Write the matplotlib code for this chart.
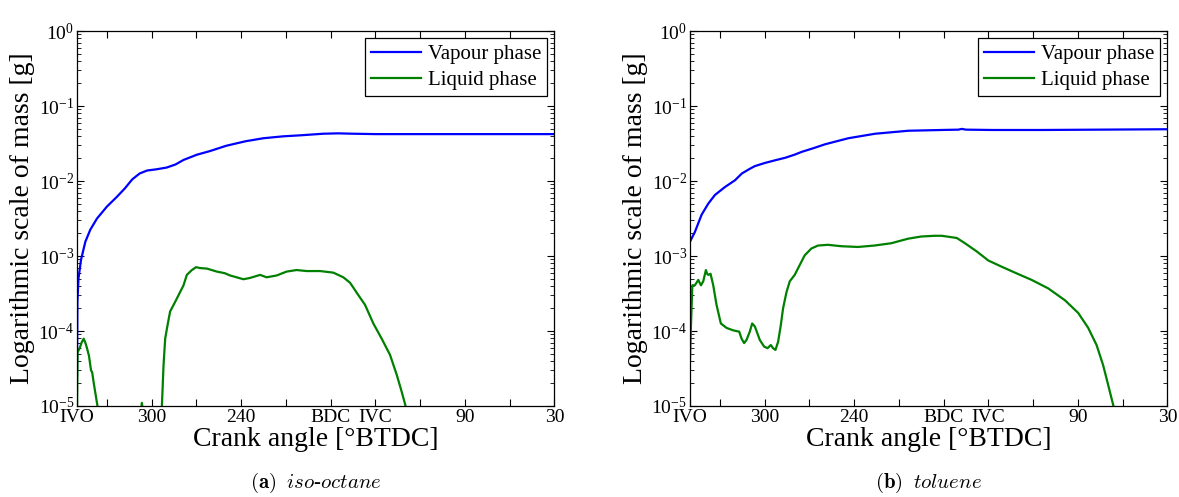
import numpy as np
import matplotlib
matplotlib.use("Agg")
import matplotlib.pyplot as plt
from matplotlib.ticker import LogLocator, NullFormatter

plt.rcParams['font.family'] = ['Liberation Serif', 'DejaVu Serif']
plt.rcParams['mathtext.fontset'] = 'custom'
plt.rcParams['mathtext.rm'] = 'Liberation Serif'
plt.rcParams['mathtext.it'] = 'Liberation Serif:italic'
plt.rcParams['mathtext.bf'] = 'Liberation Serif:bold'

# crank angle ticks [deg BTDC], axis runs from IVO (350) down to 30
tick_pos = [350, 330, 300, 270, 240, 210, 180, 150, 120, 90, 60, 30]
tick_lab = ['IVO', '', '300', '', '240', '', 'BDC', 'IVC', '', '90', '', '30']

# iso-octane
iso_vap_ca = [350, 349.7, 349.0, 347.3, 344.4, 341.1, 336.6, 329.9, 323.2, 318.0, 313, 308,
              303, 297, 290, 284, 278.6, 269.7, 260.8, 250, 237, 225, 212, 200, 185, 175,
              165, 150, 120, 90, 60, 30]
iso_vap = [2.5e-5, 2.5e-4, 5.0e-4, 8.9e-4, 1.55e-3, 2.24e-3, 3.16e-3, 4.57e-3, 6.17e-3, 7.94e-3,
           1.05e-2, 1.26e-2, 1.38e-2, 1.43e-2, 1.51e-2, 1.66e-2, 1.91e-2, 2.24e-2, 2.51e-2,
           2.95e-2, 3.39e-2, 3.72e-2, 3.94e-2, 4.07e-2, 4.27e-2, 4.32e-2, 4.27e-2, 4.22e-2,
           4.22e-2, 4.22e-2, 4.22e-2, 4.22e-2]

iso_liq_ca = [350, 349.6, 348.2, 346.8, 345.5, 344.3, 343.3, 342, 340.6, 339.8, 338.9, 337.1,
              336, 335, 308, 307, 306.5, 306, 305, 293.5, 293.1, 292, 290.9, 289.3, 287.6,
              284.2, 280.9, 278.6, 276.4, 273.0, 270.2, 267.5, 263.0, 256.3, 251, 247.4, 243,
              238.5, 234, 227.3, 222.9, 216.2, 209.5, 202.8, 196.1, 187.1, 178.2, 171.5, 167,
              161.4, 157, 151.4, 145.8, 140.2, 135.7, 132.4, 129.5, 128]
iso_liq = [8e-6, 5.2e-5, 5.9e-5, 7.1e-5, 7.9e-5, 6.9e-5, 5.9e-5, 4.7e-5, 3.0e-5, 2.8e-5, 2.1e-5,
           1.26e-5, 9.3e-6, 5e-6, 5e-6, 9e-6, 1.1e-5, 9e-6, 5e-6, 5e-6, 1e-5, 3.5e-5, 7.9e-5,
           1.2e-4, 1.82e-4, 2.45e-4, 3.3e-4, 4.07e-4, 5.6e-4, 6.5e-4, 7.1e-4, 6.9e-4, 6.8e-4,
           6.2e-4, 5.9e-4, 5.5e-4, 5.2e-4, 4.9e-4, 5.1e-4, 5.6e-4, 5.2e-4, 5.5e-4, 6.2e-4,
           6.5e-4, 6.3e-4, 6.3e-4, 6.0e-4, 5.2e-4, 4.4e-4, 3.0e-4, 2.24e-4, 1.26e-4, 7.9e-5,
           4.8e-5, 2.6e-5, 1.55e-5, 9.5e-6, 5e-6]

# toluene
tol_vap_ca = [350, 346.7, 342.2, 337.7, 333.3, 326.6, 319.9, 315.2, 310, 306.5, 299.8, 292,
              286.2, 280, 275, 267, 259.4, 243.8, 225.9, 203.6, 181.3, 170, 167.9, 165, 147.8,
              114.3, 30]
tol_vap = [1.55e-3, 2.09e-3, 3.55e-3, 5.0e-3, 6.5e-3, 8.3e-3, 1.02e-2, 1.26e-2, 1.45e-2, 1.58e-2,
           1.74e-2, 1.91e-2, 2.04e-2, 2.24e-2, 2.45e-2, 2.75e-2, 3.09e-2, 3.72e-2, 4.27e-2,
           4.68e-2, 4.79e-2, 4.84e-2, 4.95e-2, 4.84e-2, 4.79e-2, 4.79e-2, 4.9e-2]

tol_liq_ca = [350, 349.3, 348.4, 346.7, 344.4, 343.5, 342.6, 341.1, 339.3, 338.5, 337.7, 336.2,
              334.4, 332.2, 329.3, 325.5, 321, 317, 315.4, 313.7, 312.1, 309.9, 308.3, 306.5,
              303.2, 300.3, 298, 295.8, 294.3, 292.7, 290.9, 289.1, 287.6, 285.3, 283.1, 279.8,
              276.4, 273.1, 268.6, 264.1, 257.5, 248.5, 237.4, 226.2, 215.1, 203.9, 195, 186.1,
              181.3, 171.2, 165.7, 157.8, 150, 141.1, 132.2, 121, 109.9, 98.7, 89.8, 83.1, 77.5,
              73.1, 69.7, 65.9, 64]
tol_liq = [4.0e-5, 1.2e-4, 4.07e-4, 4.07e-4, 4.8e-4, 4.4e-4, 4.07e-4, 4.6e-4, 6.5e-4, 5.8e-4,
           5.6e-4, 5.8e-4, 4.07e-4, 2.24e-4, 1.26e-4, 1.1e-4, 1.02e-4, 9.8e-5, 7.9e-5, 6.9e-5,
           7.6e-5, 9.8e-5, 1.26e-4, 1.15e-4, 7.6e-5, 6.2e-5, 5.9e-5, 6.5e-5, 5.9e-5, 5.6e-5,
           7.2e-5, 1.2e-4, 2.0e-4, 3.3e-4, 4.6e-4, 5.6e-4, 7.6e-4, 1.02e-3, 1.26e-3, 1.38e-3,
           1.41e-3, 1.35e-3, 1.32e-3, 1.38e-3, 1.48e-3, 1.70e-3, 1.82e-3, 1.86e-3, 1.86e-3,
           1.74e-3, 1.48e-3, 1.15e-3, 8.7e-4, 7.2e-4, 6.0e-4, 4.8e-4, 3.7e-4, 2.57e-4, 1.74e-4,
           1.1e-4, 6.5e-5, 3.5e-5, 1.9e-5, 9.5e-6, 5e-6]

panels = [
    (iso_vap_ca, iso_vap, iso_liq_ca, iso_liq, r"$\mathbf{(a)}$  $\mathit{iso}$-$\mathit{octane}$"),
    (tol_vap_ca, tol_vap, tol_liq_ca, tol_liq, r"$\mathbf{(b)}$  $\mathit{toluene}$"),
]

fig = plt.figure(figsize=(11.79, 4.97), dpi=100)
lefts = [0.0653, 0.5852]
for left, (vx, vy, lx, ly, cap) in zip(lefts, panels):
    ax = fig.add_axes([left, 0.1831, 0.4050, 0.7545])
    ax.plot(vx, vy, color='#0000ff', lw=1.6, label='Vapour phase')
    ax.plot(lx, ly, color='#008000', lw=1.6, label='Liquid phase')
    ax.set_yscale('log')
    ax.set_ylim(1e-5, 1)
    ax.set_xlim(350, 30)
    ax.set_xticks(tick_pos)
    ax.set_xticklabels(tick_lab)
    ax.yaxis.set_major_locator(LogLocator(base=10, numticks=10))
    ax.yaxis.set_minor_locator(LogLocator(base=10, subs=np.arange(2, 10), numticks=20))
    ax.yaxis.set_minor_formatter(NullFormatter())
    ax.tick_params(which='both', direction='in', top=True, right=True, labelsize=14, pad=2)
    ax.tick_params(which='major', length=5, width=0.8)
    ax.tick_params(which='minor', length=3, width=0.6)
    for s in ax.spines.values():
        s.set_linewidth(0.9)
    ax.set_xlabel('Crank angle [°BTDC]', fontsize=20, labelpad=1)
    ax.set_ylabel('Logarithmic scale of mass [g]', fontsize=20, labelpad=2)
    leg = ax.legend(loc='upper right', fontsize=15, fancybox=False, framealpha=1,
                    edgecolor='black', handlelength=2.4, borderaxespad=0.35,
                    handletextpad=0.3, labelspacing=0.3, borderpad=0.3)
    leg.get_frame().set_linewidth(0.9)
    fig.text(left + 0.2025, 0.028, cap, ha='center', va='center', fontsize=15,
             math_fontfamily='cm')

fig.savefig('out.png', dpi=100)
